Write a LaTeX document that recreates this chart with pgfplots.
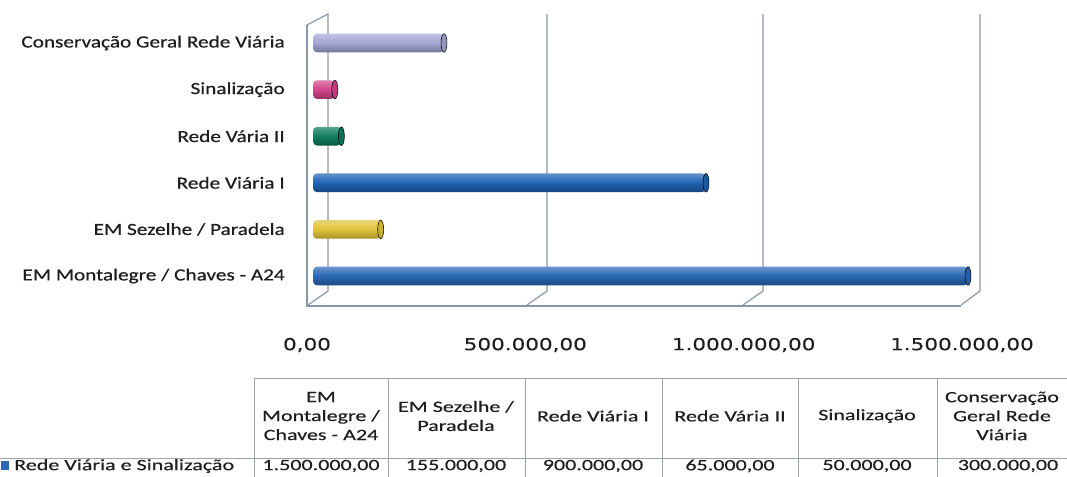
\documentclass[border=0pt]{standalone}
\usepackage{pgfplots}
\pgfplotsset{compat=1.18}
\usepackage{fontspec}
\setmainfont{Carlito}
\newfontfamily\labelfont[FakeStretch=1.25,FakeBold=0.6]{Carlito}
\newfontfamily\tablefont[FakeStretch=1.4,FakeBold=0.4]{Carlito}
\newfontfamily\tickfont[FakeStretch=1.3,FakeBold=0.3]{DejaVu Sans}
\definecolor{frame}{HTML}{8C96AA}
\definecolor{txt}{HTML}{1E1E1E}
\definecolor{cCons}{HTML}{A2A6D3}
\definecolor{cSin}{HTML}{D2468B}
\definecolor{cRV2}{HTML}{0F7F5E}
\definecolor{cRV1}{HTML}{1F62B3}
\definecolor{cSez}{HTML}{E0C23A}
\definecolor{cMon}{HTML}{2A68B5}
\definecolor{tline}{HTML}{A0A2AC}
\begin{document}
\begin{tikzpicture}
\path[use as bounding box] (0pt,0pt) rectangle (800.25pt,-357pt);
% 3D frame (decoration, pixel coordinates)
\begin{scope}[x=0.75pt,y=-0.75pt,draw=frame,line width=0.9pt]
\draw (307,25) -- (307,306) -- (961,306);
\draw (307,25) -- (328,14) -- (328,291) -- (308,305);
\foreach \gx/\fx in {547/527,763/743,980/961}{
  \draw (\gx,14) -- (\gx,291) -- (\fx,305);
}
\end{scope}
\begin{axis}[
  at={(234.75pt,-229.5pt)}, anchor=south west,
  scale only axis, width=491.25pt, height=219pt,
  xmin=0, xmax=1500000, ymin=-0.644, ymax=5.622,
  clip=false,
  axis line style={draw=none}, tick style={draw=none},
  scaled x ticks=false,
  xtick={0,500000,1000000,1500000},
  xticklabels={{0,00},{500.000,00},{1.000.000,00},{1.500.000,00}},
  ytick={0,1,2,3,4,5},
  yticklabels={EM Montalegre / Chaves - A24, EM Sezelhe / Paradela, Rede Viária I, Rede Vária II, Sinalização, Conservação Geral Rede Viária},
  yticklabel style={font=\labelfont\fontsize{12.75pt}{14pt}\selectfont, text=txt, anchor=east, inner sep=0pt, xshift=-21pt},
  xticklabel style={font=\tickfont\fontsize{12.4pt}{14pt}\selectfont, text=txt, anchor=center, inner sep=0pt, yshift=-29.25pt, xshift=-4.5pt},
  every axis plot/.append style={bar width=14pt, bar shift=0pt},
]
% bars (one per category, own colour)
\addplot[xbar, draw=none, rounded corners=3pt, top color=cMon!70!white, bottom color=cMon!70!black, middle color=cMon] coordinates {(1500000,0)};
\addplot[xbar, draw=none, rounded corners=3pt, top color=cSez!70!white, bottom color=cSez!75!black, middle color=cSez] coordinates {(155000,1)};
\addplot[xbar, draw=none, rounded corners=3pt, top color=cRV1!70!white, bottom color=cRV1!70!black, middle color=cRV1] coordinates {(900000,2)};
\addplot[xbar, draw=none, rounded corners=3pt, top color=cRV2!70!white, bottom color=cRV2!70!black, middle color=cRV2] coordinates {(65000,3)};
\addplot[xbar, draw=none, rounded corners=3pt, top color=cSin!70!white, bottom color=cSin!70!black, middle color=cSin] coordinates {(50000,4)};
\addplot[xbar, draw=none, rounded corners=3pt, top color=cCons!70!white, bottom color=cCons!70!black, middle color=cCons] coordinates {(300000,5)};
% end caps
\addplot[only marks, mark=*, mark size=7pt, mark options={draw=none, fill=cMon!90!black, xscale=0.32}] coordinates {(1500000,0)};
\addplot[only marks, mark=*, mark size=7pt, mark options={draw=none, fill=cSez!90!black, xscale=0.32}] coordinates {(155000,1)};
\addplot[only marks, mark=*, mark size=7pt, mark options={draw=none, fill=cRV1!90!black, xscale=0.32}] coordinates {(900000,2)};
\addplot[only marks, mark=*, mark size=7pt, mark options={draw=none, fill=cRV2!90!black, xscale=0.32}] coordinates {(65000,3)};
\addplot[only marks, mark=*, mark size=7pt, mark options={draw=none, fill=cSin!90!black, xscale=0.32}] coordinates {(50000,4)};
\addplot[only marks, mark=*, mark size=7pt, mark options={draw=none, fill=cCons!90!black, xscale=0.32}] coordinates {(300000,5)};
\end{axis}
% data table
\begin{scope}[x=0.75pt,y=-0.75pt]
\draw[tline,line width=0.75pt] (254,378) -- (1095,378);
\draw[tline,line width=0.75pt] (0,458) -- (1095,458);
\foreach \cx in {254,388,525,662,798,937}{
  \draw[tline,line width=0.75pt] (\cx,378) -- (\cx,485);
}
\tikzset{hd/.style={font=\tablefont\fontsize{11.8pt}{14.25pt}\selectfont, text=txt, align=center, inner sep=0pt}}
\node[hd] at (321,416) {EM\\Montalegre /\\Chaves - A24};
\node[hd] at (456,416) {EM Sezelhe /\\Paradela};
\node[hd] at (593,416) {Rede Viária I};
\node[hd] at (730,416) {Rede Vária II};
\node[hd] at (867,416) {Sinalização};
\node[hd] at (1002,416) {Conservação\\Geral Rede\\Viária};
\fill[cMon] (1,461) rectangle (9,470);
\node[hd, anchor=west] at (14,466) {Rede Viária e Sinalização};
\node[hd] at (321,466) {1.500.000,00};
\node[hd] at (456,466) {155.000,00};
\node[hd] at (593,466) {900.000,00};
\node[hd] at (730,466) {65.000,00};
\node[hd] at (867,466) {50.000,00};
\node[hd] at (1008,466) {300.000,00};
\end{scope}
\end{tikzpicture}
\end{document}
